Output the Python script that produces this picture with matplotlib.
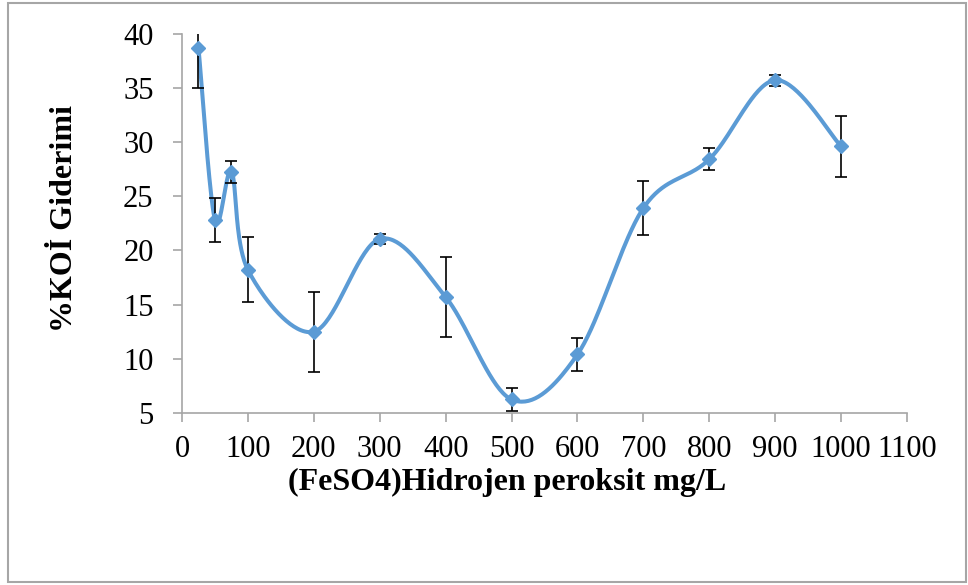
import numpy as np
import matplotlib
matplotlib.use("Agg")
import matplotlib.pyplot as plt
from matplotlib.patches import Rectangle

# Data
x_vals = [25, 50, 75, 100, 200, 300, 400, 500, 600, 700, 800, 900, 1000]
y_vals = [38.7, 22.8, 27.25, 18.2, 12.5, 21.05, 15.7, 6.25, 10.4, 23.9, 28.4, 35.7, 29.6]
y_err = [3.7, 2.0, 1.0, 3.0, 3.7, 0.5, 3.7, 1.1, 1.5, 2.5, 1.0, 0.5, 2.8]
x_ticks = [0, 100, 200, 300, 400, 500, 600, 700, 800, 900, 1000, 1100]
y_ticks = [5, 10, 15, 20, 25, 30, 35, 40]
x_label = "(FeSO4)Hidrojen peroksit mg/L"
y_label = "%KOİ Giderimi"


def smooth_curve(xs, ys, n=40):
    """Excel-style smoothed line: cubic Bezier segments with Catmull-Rom control points."""
    xs = np.asarray(xs, float)
    ys = np.asarray(ys, float)
    px = np.concatenate([[xs[0]], xs, [xs[-1]]])
    py = np.concatenate([[ys[0]], ys, [ys[-1]]])
    out_x, out_y = [], []
    t = np.linspace(0, 1, n)
    for i in range(1, len(px) - 2):
        p0 = np.array([px[i], py[i]])
        p3 = np.array([px[i + 1], py[i + 1]])
        c1 = p0 + (np.array([px[i + 1], py[i + 1]]) - np.array([px[i - 1], py[i - 1]])) / 6.0
        c2 = p3 - (np.array([px[i + 2], py[i + 2]]) - np.array([px[i], py[i]])) / 6.0
        b = ((1 - t) ** 3)[:, None] * p0 + (3 * (1 - t) ** 2 * t)[:, None] * c1 \
            + (3 * (1 - t) * t ** 2)[:, None] * c2 + (t ** 3)[:, None] * p3
        out_x.extend(b[:, 0])
        out_y.extend(b[:, 1])
    return np.array(out_x), np.array(out_y)


plt.rcParams['font.family'] = ['Liberation Serif', 'DejaVu Serif']

W, H = 968, 585
L, R, T, B = 182, 907, 33.5, 413

fig = plt.figure(figsize=(W / 100, H / 100), dpi=100)
ax = fig.add_axes([L / W, 1 - B / H, (R - L) / W, (B - T) / H])

blue = '#5B9BD5'
sx, sy = smooth_curve(x_vals, y_vals)
ax.plot(sx, sy, color=blue, lw=2.9, zorder=2, solid_capstyle='round')
ax.errorbar(x_vals, y_vals, yerr=y_err, fmt='none', ecolor='black', elinewidth=1.2,
            capsize=4.4, capthick=1.2, zorder=3)
ax.plot(x_vals, y_vals, linestyle='none', marker='D', markersize=7.5, color=blue, zorder=4)

ax.set_xlim(0, 1100)
ax.set_ylim(5, 40)
ax.set_xticks(x_ticks)
ax.set_yticks(y_ticks)
ax.set_xticklabels([str(v) for v in x_ticks], fontsize=22)
ax.set_yticklabels([str(v) for v in y_ticks], fontsize=22)

for s in ['top', 'right']:
    ax.spines[s].set_visible(False)
for s in ['left', 'bottom']:
    ax.spines[s].set_color('#a6a6a6')
    ax.spines[s].set_linewidth(1.2)
ax.tick_params(axis='both', colors='#a6a6a6', width=1.2, labelcolor='black')
ax.tick_params(axis='y', length=6.5, pad=14)
ax.tick_params(axis='x', length=6.5, pad=9)

ax.set_xlabel(x_label, fontsize=23, fontweight='bold')
ax.set_ylabel(y_label, fontsize=23, fontweight='bold')
ax.xaxis.set_label_coords((507 - L) / (R - L), -(468 - B) / (B - T))
ax.yaxis.set_label_coords(-(L - 79) / (R - L), (B - 219) / (B - T))

fig.patches.append(Rectangle((8 / W, 3 / H), (966 - 8) / W, (582 - 3) / H,
                             transform=fig.transFigure, fill=False,
                             edgecolor='#a6a6a6', linewidth=1.5))

fig.savefig('out.png', dpi=100)
